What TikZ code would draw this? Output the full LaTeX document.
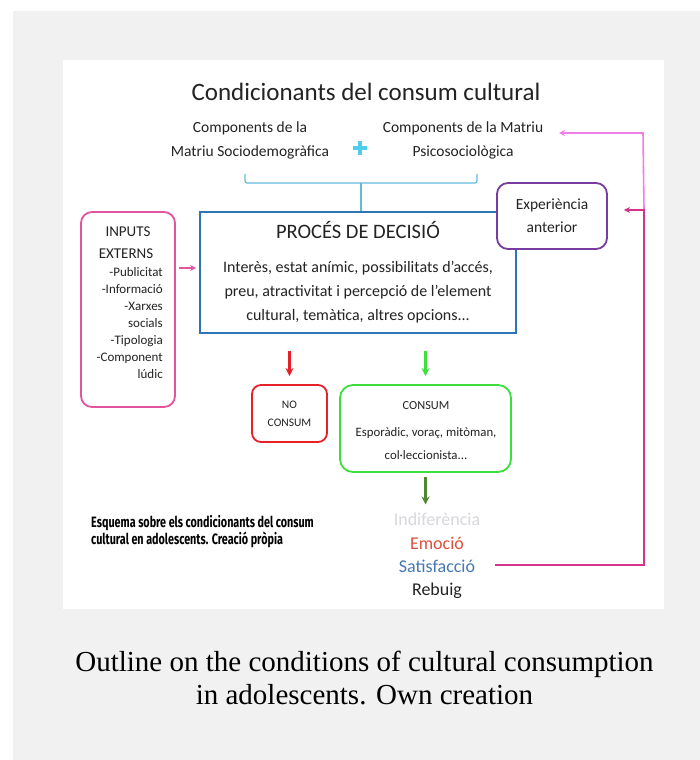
\documentclass[tikz,border=0pt]{standalone}
\usepackage{fontspec}
\setmainfont{Carlito}
\newfontfamily\capfont{Liberation Serif}
\newfontfamily\condfont{Fira Sans}[FakeStretch=0.72]
\usetikzlibrary{arrows.meta,calc}
\definecolor{bgg}{RGB}{241,241,241}
\definecolor{inpink}{RGB}{226,84,160}
\definecolor{procblue}{RGB}{46,117,182}
\definecolor{bracec}{RGB}{100,185,225}
\definecolor{plusc}{RGB}{80,205,235}
\definecolor{expurple}{RGB}{120,60,160}
\definecolor{noredc}{RGB}{232,32,42}
\definecolor{consgreen}{RGB}{60,224,60}
\definecolor{dkgreen}{RGB}{80,135,50}
\definecolor{lpink}{RGB}{240,126,230}
\definecolor{magc}{RGB}{212,51,140}
\definecolor{indifc}{RGB}{215,215,220}
\definecolor{emoc}{RGB}{222,80,60}
\definecolor{satc}{RGB}{70,120,180}
\definecolor{txt}{RGB}{35,35,35}
\tikzset{
  boxline/.style={line width=1.8pt},
  tip/.style={-{Stealth[length=8pt,width=8pt]}},
  smalltip/.style={-{Stealth[length=6pt,width=6pt]}},
  plain/.style={inner sep=0pt, text=txt},
}
\begin{document}
\begin{tikzpicture}[x=1pt,y=-1pt]
\useasboundingbox (0,0) rectangle (700,760);
\fill[bgg] (13,11) rectangle (700,760);
\fill[white] (63,60) rectangle (664,609);

% title and matrices
\node[plain, font=\fontsize{25}{30}\selectfont] (title) at (366,92) {Condicionants del consum cultural};
\node[plain, align=center, font=\fontsize{15.5}{24}\selectfont] (socio) at (250,140) {Components de la\\Matriu Sociodemogràfica};
\node[plain, align=center, font=\fontsize{15.5}{24}\selectfont] (psico) at (463,140) {Components de la Matriu\\Psicosociològica};
\draw[plusc, line width=4pt] (353,148) -- (367,148) (360,141) -- (360,155);

% brace
\draw[bracec, line width=1.2pt, rounded corners=2pt] (245,174) -- (245,183) -- (477,183) -- (477,174);
\coordinate (bmid) at (361,183);

% decision box
\node[draw=procblue, boxline, minimum width=316pt, minimum height=121pt, inner sep=0pt] (proc) at (358,272.5) {};
\draw[bracec, line width=1.2pt] (bmid) -- (bmid |- proc.north);
\node[plain, font=\fontsize{20.5}{24}\selectfont] (proct) at (358,230) {PROCÉS DE DECISIÓ};
\node[plain, align=center, font=\fontsize{16}{24}\selectfont] (procb) at (358,292) {Interès, estat anímic, possibilitats d’accés,\\preu, atractivitat i percepció de l’element\\cultural, temàtica, altres opcions...};

% inputs
\node[draw=inpink, boxline, rounded corners=11pt, minimum width=94pt, minimum height=195pt, inner sep=0pt] (inputs) at (128,309.5) {};
\node[plain, font=\fontsize{15}{18}\selectfont] (in1) at (128,232) {INPUTS};
\node[plain, font=\fontsize{15}{18}\selectfont] (in2) at (126,254) {EXTERNS};
\node[plain, align=right, anchor=north east, font=\fontsize{13}{17}\selectfont] (inl) at (163,267) {-Publicitat\\-Informació\\-Xarxes\\socials\\-Tipologia\\-Component\\lúdic};
\coordinate (iny) at (0,268);
\draw[inpink, line width=1.4pt, smalltip, shorten <=3pt, shorten >=3pt] (inputs.east |- iny) -- (proc.west |- iny);

% experiencia
\node[draw=expurple, boxline, fill=white, rounded corners=11pt, minimum width=110pt, minimum height=66pt, inner sep=0pt, align=center, text=txt, font=\fontsize{15.5}{23}\selectfont] (exp) at (552,216) {Experiència\\anterior};

% outcomes
\node[draw=noredc, boxline, rounded corners=9pt, minimum width=75pt, minimum height=57pt, inner sep=0pt, align=center, text=txt, font=\fontsize{11.5}{18}\selectfont] (nocons) at (289.5,413.5) {NO\\CONSUM};
\node[draw=consgreen, boxline, rounded corners=13pt, minimum width=171pt, minimum height=87pt, inner sep=0pt] (cons) at (425.5,428.5) {};
\node[plain, font=\fontsize{12.3}{14}\selectfont] (cons1) at (426,406) {CONSUM};
\node[plain, align=center, font=\fontsize{12.8}{23}\selectfont] (cons2) at (426,443.5) {Esporàdic, voraç, mitòman,\\col·leccionista...};

\draw[noredc, line width=2.2pt, tip, shorten <=17pt, shorten >=8pt] (proc.south -| nocons) -- (nocons.north);
\draw[consgreen, line width=2.2pt, tip, shorten <=17pt, shorten >=8pt] (proc.south -| cons) -- (cons.north);

% result words
\node[plain, text=indifc, font=\fontsize{18}{20}\selectfont] (indif) at (437,519) {Indiferència};
\node[plain, text=emoc, font=\fontsize{18}{20}\selectfont] (emo) at (437,543) {Emoció};
\node[plain, text=satc, font=\fontsize{18}{20}\selectfont] (satis) at (437,566) {Satisfacció};
\node[plain, text=txt, font=\fontsize{18}{20}\selectfont] (rebuig) at (437,591) {Rebuig};
\draw[dkgreen, line width=2.2pt, tip, shorten <=4pt, shorten >=8pt] (cons.south) -- (cons.south |- indif.north);

% feedback lines
\coordinate (fbk) at (644,210);
\coordinate (ptop) at (643,133);
\coordinate (ptip) at (559,133);
\draw[lpink, line width=1.6pt, smalltip] (fbk) -- (ptop) -- (ptip);
\draw[magc, line width=2pt, smalltip, shorten >=16pt] (satis.east |- 0,565) ++(20,0) -| (fbk) -- (exp.east |- fbk);

% note
\node[plain, align=left, anchor=west, text=black, font=\condfont\bfseries\fontsize{15}{17}\selectfont] (note) at (91,531.5) {Esquema sobre els condicionants del consum\\cultural en adolescents. Creació pròpia};

% caption
\node[inner sep=0pt, align=center, font=\capfont\fontsize{29}{33}\selectfont] (cap) at (364.5,677.5) {Outline on the conditions of cultural consumption\\in adolescents. Own creation};
\end{tikzpicture}
\end{document}
